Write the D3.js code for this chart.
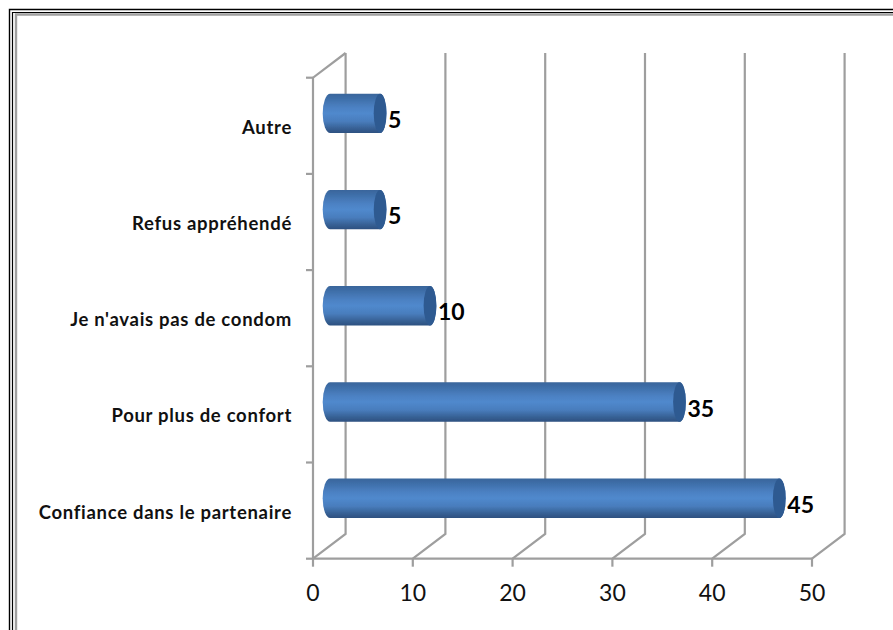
<!DOCTYPE html>
<html><head><meta charset="utf-8">
<script src="https://cdnjs.cloudflare.com/ajax/libs/d3/7.8.5/d3.min.js"></script>
<style>html,body{margin:0;padding:0;background:#fff}svg{display:block}</style>
</head><body>
<script>
const categories = ["Confiance dans le partenaire","Pour plus de confort","Je n'avais pas de condom","Refus appréhendé","Autre"];
const values = [45,35,10,5,5];
const xTicks = [0,10,20,30,40,50];

const W=893,H=630;
const svg=d3.select("body").append("svg").attr("width",W).attr("height",H);
const defs=svg.append("defs");
const f=defs.append("filter").attr("id","soft").attr("x","-5%").attr("y","-5%").attr("width","110%").attr("height","110%");
f.append("feGaussianBlur").attr("stdDeviation",0.5);
const g1=defs.append("linearGradient").attr("id","body").attr("x1",0).attr("x2",0).attr("y1",0).attr("y2",1);
[[0,"#39659b"],[0.12,"#3e6ea8"],[0.35,"#4c81c3"],[0.5,"#5089cd"],[0.7,"#497dbd"],[0.88,"#376195"],[1,"#2d5080"]].forEach(s=>g1.append("stop").attr("offset",s[0]).attr("stop-color",s[1]));

// frame
const frame=svg.append("g");
[[9.5,9.5,"#000",1.4],[12.5,12.5,"#000",1.2]].forEach(d=>{
  frame.append("path").attr("d",`M${d[0]},${H}V${d[1]}H${W}`).attr("fill","none").attr("stroke",d[2]).attr("stroke-width",d[3]);
});
frame.append("path").attr("d",`M16,${H}V14.5H${W}`).attr("fill","none").attr("stroke","#a0a0a0").attr("stroke-width",2.4);

const x=d3.scaleLinear().domain([0,50]).range([313,812]);
const y=d3.scaleBand().domain(categories).range([558.7,77.7]);
const depthX=32.6,depthY=-24.7;
const grid="#9e9e9e";
const chart=svg.append("g").attr("filter","url(#soft)");

// grid: back wall verticals and floor diagonals
xTicks.forEach(t=>{
  chart.append("path")
    .attr("d",`M${x(t)+depthX},${y.range()[1]+depthY}V${y.range()[0]+depthY}L${x(t)},${y.range()[0]}`)
    .attr("fill","none").attr("stroke",grid).attr("stroke-width",2.2);
});
// left wall
chart.append("path").attr("d",`M${x(0)+depthX},${y.range()[1]+depthY}L${x(0)},${y.range()[1]}V${y.range()[0]}H${x(50)}`)
  .attr("fill","none").attr("stroke",grid).attr("stroke-width",2.2);
// x ticks
chart.selectAll(".xt").data(xTicks).join("line").attr("x1",d=>x(d)).attr("x2",d=>x(d))
  .attr("y1",y.range()[0]).attr("y2",y.range()[0]+8).attr("stroke",grid).attr("stroke-width",2.2);
// category ticks
const yEdges=[...categories.map(c=>y(c)+y.bandwidth()),y.range()[1]];
chart.selectAll(".yt").data(yEdges).join("line").attr("x1",x(0)-7).attr("x2",x(0))
  .attr("y1",d=>d).attr("y2",d=>d).attr("stroke",grid).attr("stroke-width",2.2);

// cylinders
const barH=39.4,rx=6.4,rxLeft=7.5,ry=barH/2;
const xOff=17.2,yOff=-12.4;
const bars=chart.selectAll(".bar").data(categories.map((c,i)=>({c,v:values[i]}))).join("g");
bars.append("path")
  .attr("d",d=>{
    const cy=y(d.c)+y.bandwidth()/2+yOff,x0=x(0)+xOff,x1=x(d.v)+xOff;
    return `M${x0},${cy-ry}H${x1}A${rx},${ry} 0 0 1 ${x1},${cy+ry}H${x0}A${rxLeft},${ry} 0 0 1 ${x0},${cy-ry}Z`;
  }).attr("fill","url(#body)");
bars.append("ellipse")
  .attr("cx",d=>x(d.v)+xOff).attr("cy",d=>y(d.c)+y.bandwidth()/2+yOff)
  .attr("rx",rx).attr("ry",ry).attr("fill","#2f5a91");

// text
const font="Lato, 'Liberation Sans', sans-serif";
svg.selectAll(".cat").data(categories).join("text")
  .attr("x",292).attr("y",d=>y(d)+y.bandwidth()/2+1.5)
  .attr("dy","0.35em").attr("text-anchor","end")
  .attr("font-family",font).attr("font-weight",700).attr("font-size",18.5).attr("letter-spacing",0.7).attr("fill","#111").text(d=>d);
svg.selectAll(".tick").data(xTicks).join("text")
  .attr("x",d=>x(d)).attr("y",593).attr("dy","0.35em").attr("text-anchor","middle")
  .attr("font-family",font).attr("font-size",23).attr("fill","#111").text(d=>d);
svg.selectAll(".val").data(categories.map((c,i)=>({c,v:values[i]}))).join("text")
  .attr("x",d=>x(d.v)+xOff+8).attr("y",d=>y(d.c)+y.bandwidth()/2-5.8)
  .attr("dy","0.35em")
  .attr("font-family",font).attr("font-weight",700).attr("font-size",23).attr("fill","#000").text(d=>d.v);
</script>
</body></html>
